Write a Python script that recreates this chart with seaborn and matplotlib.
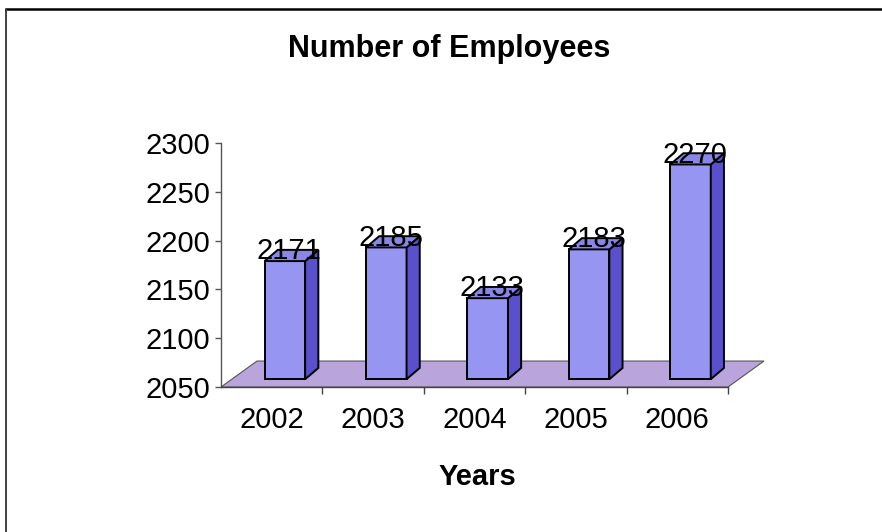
import matplotlib
matplotlib.use("Agg")
import matplotlib.pyplot as plt
import seaborn as sns
import pandas as pd
from matplotlib.patches import Polygon
from matplotlib.lines import Line2D

years = ["2002", "2003", "2004", "2005", "2006"]
employees = [2171, 2185, 2133, 2183, 2270]
y_ticks = [2050, 2100, 2150, 2200, 2250, 2300]
y_min, y_max = 2050, 2300

front_col = "#9696F2"
side_col = "#5A50CC"
top_col = "#8A86E6"
floor_col = "#B9A4DC"

sns.set_theme(style="white")
plt.rcParams["font.family"] = ["Liberation Sans", "DejaVu Sans"]
plt.rcParams["text.color"] = "black"
plt.rcParams["axes.labelcolor"] = "black"

fig = plt.figure(figsize=(8.82, 5.32), dpi=100)
ax = fig.add_axes([221 / 882, 1 - 387 / 532, 507 / 882, 244 / 532])

df = pd.DataFrame({"year": years, "employees": employees})
sns.barplot(data=df, x="year", y="employees", color=front_col, width=0.40,
            saturation=1, edgecolor="black", linewidth=1.4, ax=ax, zorder=3)
ax.set_xlim(-0.5, 4.5)
ax.set_ylim(y_min, y_max)

# fake 3d depth (in data units)
fdx, fdy = 0.355, 26.6   # floor depth
bdx, bdy = 0.13, 8.0     # bars sit halfway back on the floor
sdx, sdy = 0.13, 11.5    # depth of each bar

floor = Polygon([(-0.5, y_min), (4.5, y_min), (4.5 + fdx, y_min + fdy), (-0.5 + fdx, y_min + fdy)],
                closed=True, facecolor=floor_col, edgecolor="#555555", lw=0.8,
                clip_on=False, zorder=1)
ax.add_patch(floor)

for p, v in zip(ax.patches[:len(employees)], employees):
    x0 = p.get_x() + bdx
    w = p.get_width()
    b = y_min + bdy
    h = v - y_min
    p.set_x(x0)
    p.set_y(b)
    p.set_height(h)
    p.set_clip_on(False)
    side = [(x0 + w, b), (x0 + w + sdx, b + sdy), (x0 + w + sdx, b + h + sdy), (x0 + w, b + h)]
    top = [(x0, b + h), (x0 + w, b + h), (x0 + w + sdx, b + h + sdy), (x0 + sdx, b + h + sdy)]
    ax.add_patch(Polygon(side, closed=True, facecolor=side_col, edgecolor="black",
                         lw=1.4, clip_on=False, zorder=3))
    ax.add_patch(Polygon(top, closed=True, facecolor=top_col, edgecolor="black",
                         lw=1.4, clip_on=False, zorder=3))
    ax.annotate(str(v), (x0 + w / 2 + sdx / 3, v), xytext=(0, 7), textcoords="offset points",
                ha="center", va="baseline", fontsize=21, color="black", zorder=5)

ax.set_yticks(y_ticks)
ax.set_xticks(range(len(years)))
ax.set_xticklabels(years)
ax.set_xticks([0.5, 1.5, 2.5, 3.5, 4.5], minor=True)
ax.tick_params(axis="y", left=True, length=4, width=1, pad=4, labelsize=21,
               color="#555555", labelcolor="black")
ax.tick_params(axis="x", which="major", bottom=True, length=0, pad=14, labelsize=21,
               labelcolor="black")
ax.tick_params(axis="x", which="minor", bottom=True, length=5, width=1, color="#444444")

ax.set_xlabel("Years", fontsize=21, fontweight="bold")
ax.xaxis.set_label_coords((477.5 - 221) / 507, (387 - 485) / 244)
ax.xaxis.label.set_va("baseline")
ax.set_ylabel("")
ax.set_facecolor("none")
for s in ["top", "right"]:
    ax.spines[s].set_visible(False)
ax.spines["left"].set_color("#555555")
ax.spines["bottom"].set_color("#444444")
ax.spines["left"].set_linewidth(1)
ax.spines["bottom"].set_linewidth(1)

fig.text(449 / 882, 1 - 57 / 532, "Number of Employees", ha="center", va="baseline",
         fontsize=22, fontweight="bold")

# chart frame (top and left edges visible in the scan)
fig.add_artist(Line2D([6 / 882, 1], [1 - 9 / 532, 1 - 9 / 532], color="black", lw=1.8))
fig.add_artist(Line2D([6 / 882, 6 / 882], [0, 1 - 9 / 532], color="#333333", lw=1.3))

fig.savefig("out.png", dpi=100)
